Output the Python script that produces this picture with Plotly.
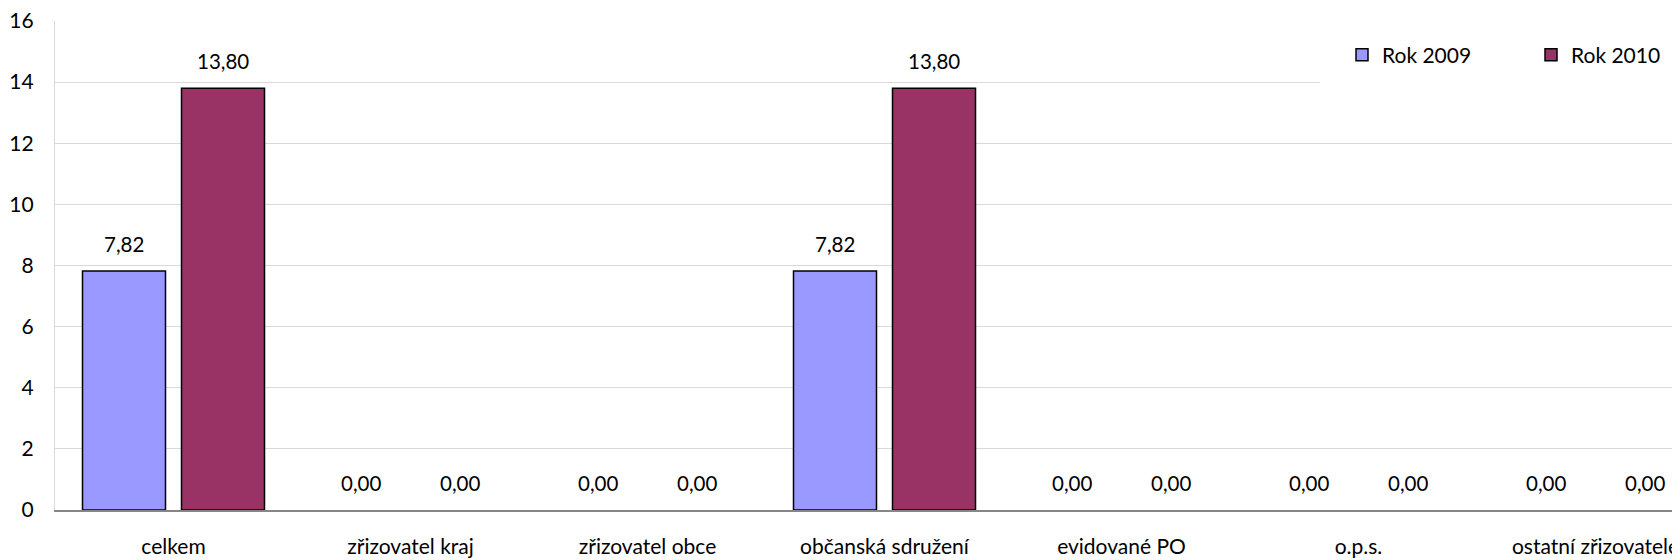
import plotly.graph_objects as go

categories = ["celkem", "zřizovatel kraj", "zřizovatel obce", "občanská sdružení",
              "evidované PO", "o.p.s.", "ostatní zřizovatelé"]
rok_2009 = [7.82, 0.00, 0.00, 7.82, 0.00, 0.00, 0.00]
rok_2010 = [13.80, 0.00, 0.00, 13.80, 0.00, 0.00, 0.00]
series_names = ["Rok 2009", "Rok 2010"]
colors = ["#9999FF", "#993366"]
y_ticks = [0, 2, 4, 6, 8, 10, 12, 14, 16]

FONT = "Lato, Carlito, Calibri, sans-serif"
# the page body has an 8px default margin; size the figure so it fits the window
W, H = 1672, 552
ML, MT, MB = 47, 13, 50
CAT_PX = 237.0
plot_w = W - ML
plot_h = H - MT - MB

fig = go.Figure()
for name, vals, col in zip(series_names, [rok_2009, rok_2010], colors):
    fig.add_trace(go.Bar(
        x=categories, y=vals, name=name,
        marker=dict(color=col,
                    line=dict(color="#000000",
                              width=[1.5 if v > 0 else 0 for v in vals])),
        hoverinfo="skip",
    ))

# data labels above bars
slot = CAT_PX * (1 - 0.1646) / 2
annotations = []
for si, vals in enumerate([rok_2009, rok_2010]):
    xs = (si - 0.5) * slot
    for c, v in zip(categories, vals):
        annotations.append(dict(
            x=c, y=v, xref="x", yref="y", text=f"{v:.2f}".replace(".", ","),
            showarrow=False, xshift=xs, yshift=27, yanchor="middle",
            font=dict(family=FONT, size=20.5, color="#000000"),
        ))

fig.update_layout(
    width=W, height=H,
    margin=dict(l=ML, r=0, t=MT, b=MB, pad=0, autoexpand=False),
    paper_bgcolor="white", plot_bgcolor="white",
    barmode="group", bargap=0.1646, bargroupgap=0.1616,
    font=dict(family=FONT, size=21, color="#000000"),
    showlegend=True,
    legend=dict(
        orientation="h", x=1287 / plot_w, xanchor="left",
        y=1.0 - 13.5 / plot_h, yanchor="top",
        bgcolor="white", borderwidth=0,
        font=dict(family=FONT, size=21, color="#000000"),
        entrywidth=144, entrywidthmode="pixels",
        traceorder="normal",
    ),
    annotations=annotations,
    shapes=[dict(
        type="rect", xref="paper", yref="paper",
        x0=(1320 - 55) / plot_w, x1=1.0,
        y0=1.0 - 78 / plot_h, y1=1.0 - 8 / plot_h,
        fillcolor="white", line=dict(width=0), layer="above",
    )],
)
fig.update_xaxes(
    type="category", range=[-0.5, -0.5 + plot_w / CAT_PX],
    showgrid=False, showline=True, linecolor="#868686", linewidth=1.5,
    ticks="outside", ticklen=17, tickcolor="rgba(0,0,0,0)",
    tickfont=dict(family=FONT, size=21, color="#000000"),
    automargin=False, fixedrange=True, ticklabeloverflow="allow",
)
fig.update_yaxes(
    range=[0, 16.0001], tickvals=y_ticks, ticktext=[str(t) for t in y_ticks],
    showgrid=True, gridcolor="#D9D9D9", gridwidth=1.3,
    showline=True, linecolor="#D9D9D9", linewidth=1.3,
    zeroline=False,
    ticks="outside", ticklen=16, tickcolor="rgba(0,0,0,0)",
    tickfont=dict(family=FONT, size=21, color="#000000"),
    automargin=False, fixedrange=True, ticklabeloverflow="allow",
)

fig.write_html("out.html")
